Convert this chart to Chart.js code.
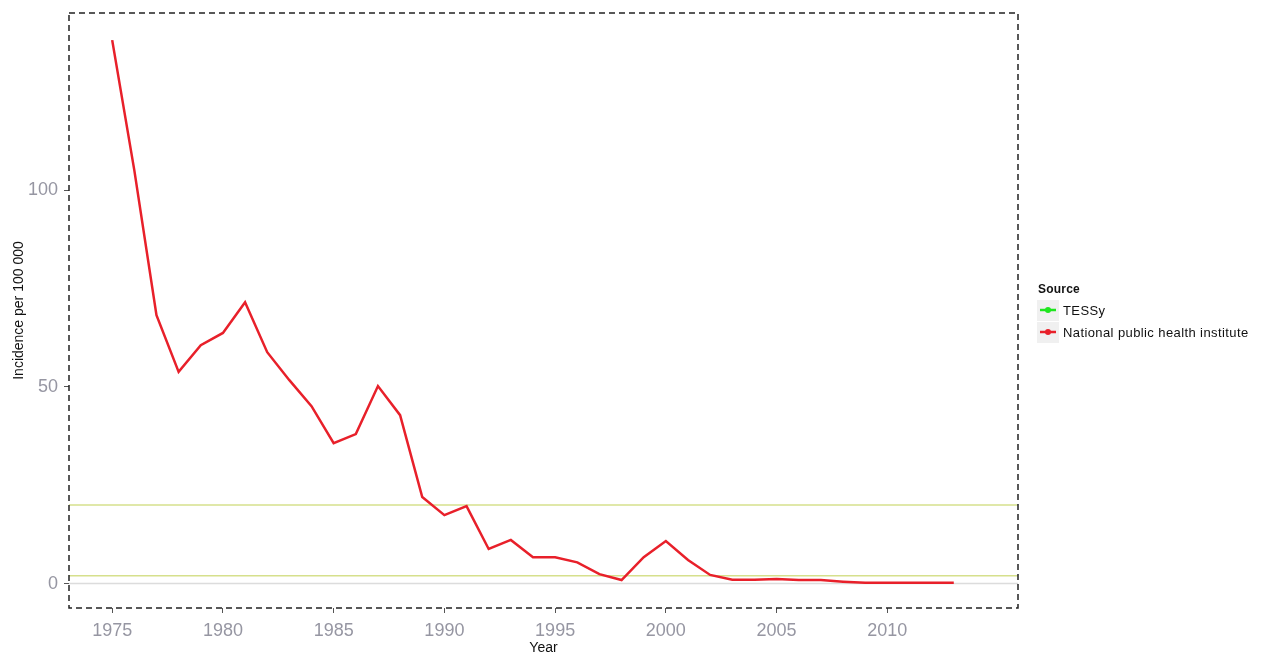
<!DOCTYPE html>
<html>
<head>
<meta charset="utf-8">
<script src="https://cdn.jsdelivr.net/npm/chart.js@4"></script>
<style>
    body { margin: 0; background: #fff; font-family: 'Liberation Sans', Arial, sans-serif; }
    #wrap { position: relative; width: 1264px; height: 657px; }
    #legend { position: absolute; left: 1037px; top: 282px; font-size: 13px; letter-spacing: 0.4px; color: #111; }
    #legend .title { font-weight: bold; font-size: 12px; letter-spacing: 0.2px; height: 17px; line-height: 14px; padding-left: 1px; }
    #legend .row { display: flex; align-items: center; height: 22px; }
    #legend .key { width: 22px; height: 21px; background: #f0f0f0; margin-right: 4px; display: flex; align-items: center; justify-content: center; }
</style>
</head>
<body>
<div id="wrap">
    <canvas id="chart" width="1264" height="657"></canvas>
    <div id="legend"></div>
</div>
<script>
// Data
const years = [1975, 1976, 1977, 1978, 1979, 1980, 1981, 1982, 1983, 1984,
    1985, 1986, 1987, 1988, 1989, 1990, 1991, 1992, 1993, 1994,
    1995, 1996, 1997, 1998, 1999, 2000, 2001, 2002, 2003, 2004,
    2005, 2006, 2007, 2008, 2009, 2010, 2011, 2012, 2013];
const nphiValues = [138.1, 105, 68.2, 53.8, 60.6, 63.7, 71.5, 58.8, 51.7, 45.1,
    35.7, 38.0, 50.2, 42.8, 22.0, 17.4, 19.7, 8.8, 11.1, 6.7,
    6.7, 5.4, 2.4, 0.9, 6.7, 10.8, 6.0, 2.2, 1.0, 1.0,
    1.2, 0.9, 0.9, 0.5, 0.2, 0.2, 0.2, 0.2, 0.2];
const tessyValues = [];
const seriesNames = ['TESSy', 'National public health institute'];
const seriesColors = ['#1ee61e', '#e8202a'];
const referenceValues = [2, 20];
const xTicks = [1975, 1980, 1985, 1990, 1995, 2000, 2005, 2010];
const yTicks = [0, 50, 100];

const tickColor = '#9696a2';

// reference lines + dashed panel border
const panelPlugin = {
    id: 'panel',
    beforeDatasetsDraw(chart) {
        const { ctx, chartArea, scales } = chart;
        ctx.save();
        ctx.lineWidth = 1.5;
        ctx.strokeStyle = '#dcdcdc';
        const y0 = scales.y.getPixelForValue(0);
        ctx.beginPath();
        ctx.moveTo(chartArea.left, y0);
        ctx.lineTo(chartArea.right, y0);
        ctx.stroke();
        ctx.strokeStyle = '#d6e08c';
        referenceValues.forEach(v => {
            const y = scales.y.getPixelForValue(v);
            ctx.beginPath();
            ctx.moveTo(chartArea.left, y);
            ctx.lineTo(chartArea.right, y);
            ctx.stroke();
        });
        ctx.restore();
    },
    afterDraw(chart) {
        const { ctx, chartArea } = chart;
        ctx.save();
        ctx.strokeStyle = '#222';
        ctx.lineWidth = 1.5;
        ctx.setLineDash([6, 4]);
        ctx.strokeRect(chartArea.left, chartArea.top,
            chartArea.right - chartArea.left, chartArea.bottom - chartArea.top);
        ctx.restore();
    }
};

new Chart(document.getElementById('chart'), {
    type: 'line',
    data: {
        datasets: [
            {
                label: seriesNames[0],
                data: tessyValues,
                borderColor: seriesColors[0],
                borderWidth: 2.5,
                pointRadius: 0
            },
            {
                label: seriesNames[1],
                data: years.map((yr, i) => ({ x: yr, y: nphiValues[i] })),
                borderColor: seriesColors[1],
                borderWidth: 2.5,
                pointRadius: 0,
                tension: 0
            }
        ]
    },
    options: {
        responsive: false,
        animation: false,
        layout: { padding: { top: 13, right: 246, left: 0, bottom: 0 } },
        plugins: {
            legend: { display: false },
            tooltip: { enabled: false }
        },
        scales: {
            x: {
                type: 'linear',
                min: 1973.05,
                max: 2015.9,
                afterBuildTicks: scale => { scale.ticks = xTicks.map(v => ({ value: v })); },
                afterFit: scale => { scale.height = 49; scale.paddingLeft = 0; scale.paddingRight = 0; },
                ticks: {
                    callback: v => String(v),
                    color: tickColor,
                    font: { family: 'Liberation Sans', size: 18 },
                    padding: 7,
                    maxRotation: 0
                },
                grid: { drawOnChartArea: false, drawTicks: true, tickLength: 5, color: '#555', lineWidth: 1 },
                border: { display: false },
                title: {
                    display: true,
                    text: 'Year',
                    color: '#111',
                    font: { family: 'Liberation Sans', size: 14 },
                    padding: { top: 0, bottom: 0 }
                }
            },
            y: {
                min: -6.2,
                max: 145,
                afterBuildTicks: scale => { scale.ticks = yTicks.map(v => ({ value: v })); },
                afterFit: scale => { scale.width = 69; scale.paddingTop = 0; scale.paddingBottom = 0; },
                ticks: {
                    color: tickColor,
                    font: { family: 'Liberation Sans', size: 18 },
                    padding: 6
                },
                grid: { drawOnChartArea: false, drawTicks: true, tickLength: 5, color: '#555', lineWidth: 1 },
                border: { display: false },
                title: {
                    display: true,
                    text: 'Incidence per 100 000',
                    color: '#111',
                    font: { family: 'Liberation Sans', size: 14 },
                    padding: { top: 11, bottom: 0 }
                }
            }
        }
    },
    plugins: [panelPlugin]
});

// legend built from the same series names/colours
const legend = document.getElementById('legend');
let html = '<div class="title">Source</div>';
seriesNames.forEach((name, i) => {
    html += '<div class="row"><div class="key"><svg width="18" height="10">' +
        '<line x1="1" y1="5" x2="17" y2="5" stroke="' + seriesColors[i] + '" stroke-width="2.5"/>' +
        '<circle cx="9" cy="5" r="3" fill="' + seriesColors[i] + '"/></svg></div>' +
        '<span>' + name + '</span></div>';
});
legend.innerHTML = html;
</script>
</body>
</html>
